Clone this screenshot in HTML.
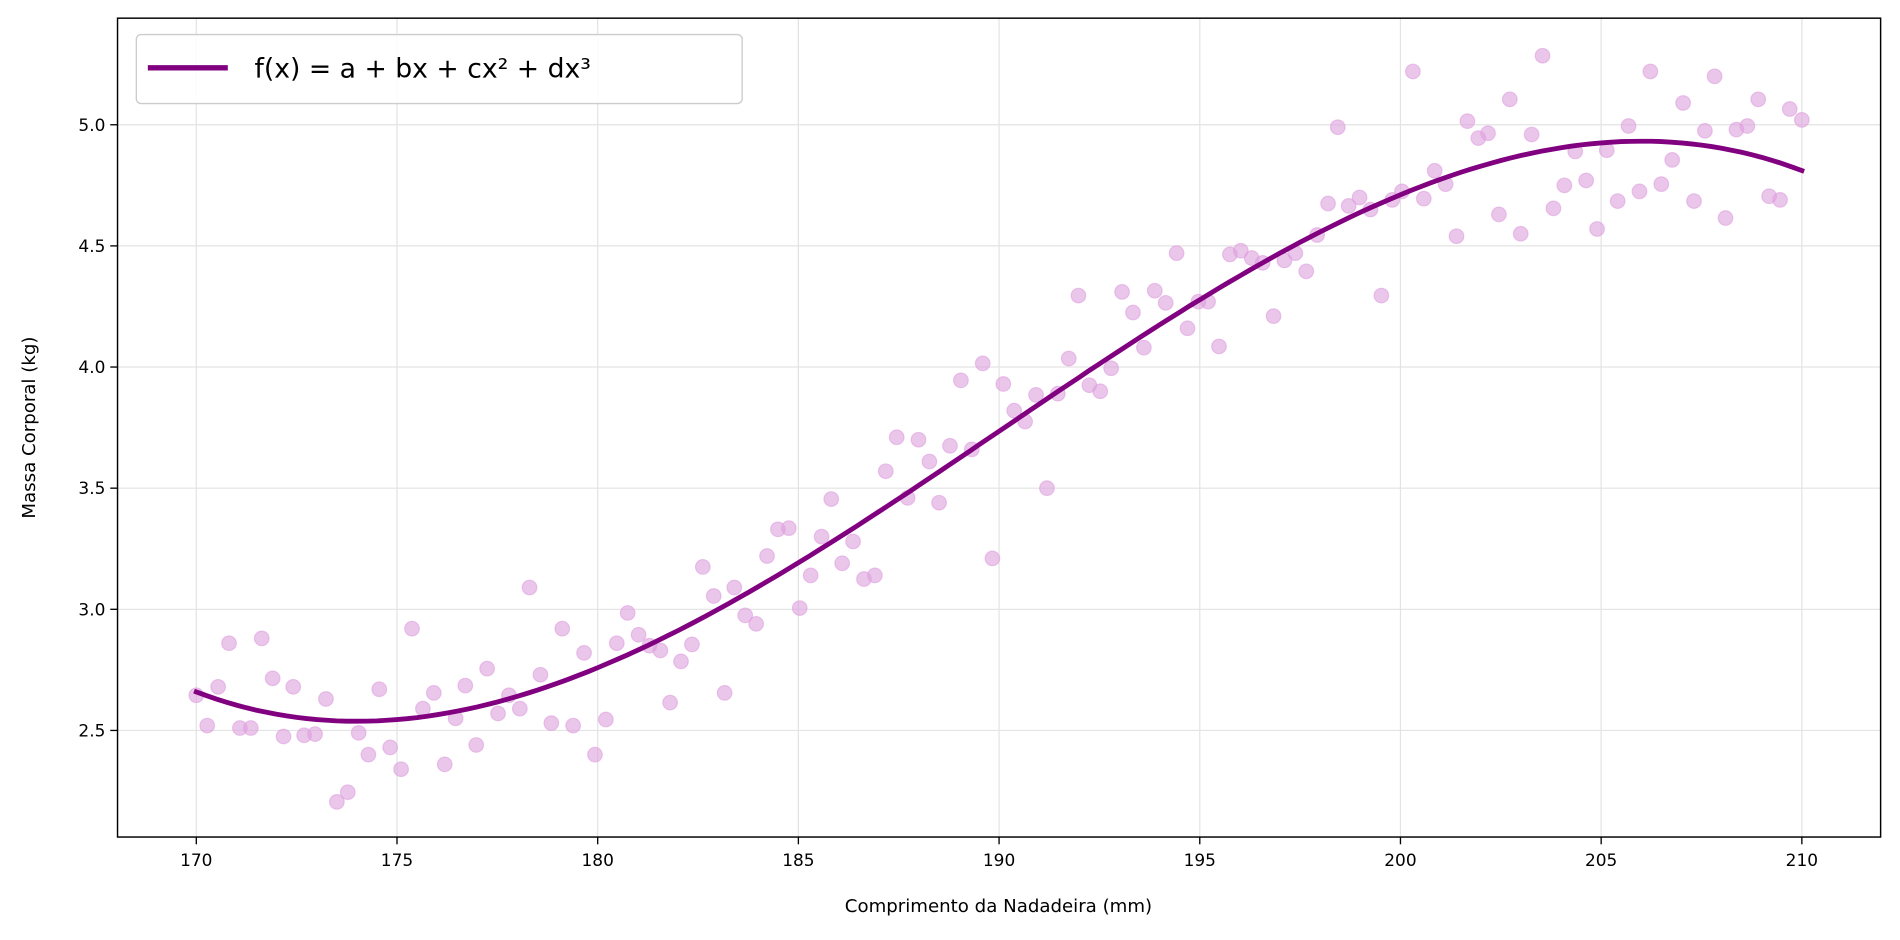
<!DOCTYPE html>
<html><head><meta charset="utf-8"><style>
html,body{margin:0;padding:0;background:#fff;width:1900px;height:940px;overflow:hidden}
text{font-family:"DejaVu Sans","Liberation Sans",sans-serif;fill:#000}
</style></head><body>
<svg id="s" width="1900" height="940" viewBox="0 0 1568 776" preserveAspectRatio="none" xmlns="http://www.w3.org/2000/svg">
<g id="grid" stroke="#e3e3e3" stroke-width="1"></g>
<g id="pts" fill="#dda0dd" fill-opacity="0.6" stroke="#dda0dd" stroke-opacity="0.6" stroke-width="1"></g>
<path id="curve" fill="none" stroke="#800080" stroke-width="4" stroke-linecap="square"/>
<rect x="97" y="15" width="1455" height="676" fill="none" stroke="#000" stroke-width="1.2"/>
<g id="ticks" stroke="#000" stroke-width="1.1"></g>
<g id="labels" font-size="14"></g>
<text x="824" y="753" font-size="15" text-anchor="middle">Comprimento da Nadadeira (mm)</text>
<text transform="translate(29,353) rotate(-90)" font-size="15" text-anchor="middle">Massa Corporal (kg)</text>
<rect x="112.5" y="28.5" width="500" height="57" rx="4" fill="#fff" fill-opacity="0.85" stroke="#ccc" stroke-width="1.1"/>
<line x1="122" y1="56" x2="188" y2="56" stroke="#800080" stroke-width="4.5"/>
<text x="210" y="64" font-size="22">f(x) = a + bx + cx² + dx³</text>
</svg>
<script>
var NS="http://www.w3.org/2000/svg";
function el(p,t,a,txt){var e=document.createElementNS(NS,t);for(var k in a)e.setAttribute(k,a[k]);if(txt)e.textContent=txt;document.getElementById(p).appendChild(e);}
function X(v){return 162+(v-170)*33.125;}
function Y(v){return 603-(v-2.5)*200;}
for(var v=170;v<=210;v+=5){var x=X(v);el("grid","line",{x1:x,y1:15,x2:x,y2:691});el("ticks","line",{x1:x,y1:691,x2:x,y2:697});el("labels","text",{x:x,y:715,"text-anchor":"middle"},String(v));}
for(var i=0;i<6;i++){var val=2.5+i*0.5,y=Y(val);el("grid","line",{x1:97,y1:y,x2:1552,y2:y});el("ticks","line",{x1:91,y1:y,x2:97,y2:y});el("labels","text",{x:87,y:y+5,"text-anchor":"end"},val.toFixed(1));}
var P=[[162,574],[171,599],[180,567],[189,531],[198,601],[207,601],[216,527],[225,560],[234,608],[242,567],[251,607],[260,606],[269,577],[278,662],[287,654],[296,605],[304,623],[313,569],[322,617],[331,635],[340,519],[349,585],[358,572],[367,631],[376,593],[384,566],[393,615],[402,552],[411,589],[420,574],[429,585],[437,485],[446,557],[455,597],[464,519],[473,599],[482,539],[491,623],[500,594],[509,531],[518,506],[527,524],[536,533],[545,537],[553,580],[562,546],[571,532],[580,468],[589,492],[598,572],[606,485],[615,508],[624,515],[633,459],[642,437],[651,436],[660,502],[669,475],[678,443],[686,412],[695,465],[704,447],[713,478],[722,475],[731,389],[740,361],[749,411],[758,363],[767,381],[775,415],[784,368],[793,314],[802,371],[811,300],[819,461],[828,317],[837,339],[846,348],[855,326],[864,403],[873,325],[882,296],[890,244],[899,318],[908,323],[917,304],[926,241],[935,258],[944,287],[953,240],[962,250],[971,209],[980,271],[989,249],[997,249],[1006,286],[1015,210],[1024,207],[1033,213],[1042,217],[1051,261],[1060,215],[1069,209],[1078,224],[1087,194],[1096,168],[1104,105],[1113,170],[1122,163],[1131,173],[1140,244],[1149,165],[1157,158],[1166,59],[1175,164],[1184,141],[1193,152],[1202,195],[1211,100],[1220,114],[1228,110],[1237,177],[1246,82],[1255,193],[1264,111],[1273,46],[1282,172],[1291,153],[1300,125],[1309,149],[1318,189],[1326,124],[1335,166],[1344,104],[1353,158],[1362,59],[1371,152],[1380,132],[1389,85],[1398,166],[1407,108],[1415,63],[1424,180],[1433,107],[1442,104],[1451,82],[1460,162],[1469,165],[1477,90],[1487,99]];
P.forEach(function(p){el("pts","circle",{cx:p[0],cy:p[1],r:6});});
var d="";for(var x=170;x<=210.001;x+=0.25){var t=x-190;var f=3.735+0.1122*t-0.000146*t*t*t;d+=(d?"L":"M")+X(x).toFixed(1)+","+Y(f).toFixed(1);}
document.getElementById("curve").setAttribute("d",d);
</script>
</body></html>
